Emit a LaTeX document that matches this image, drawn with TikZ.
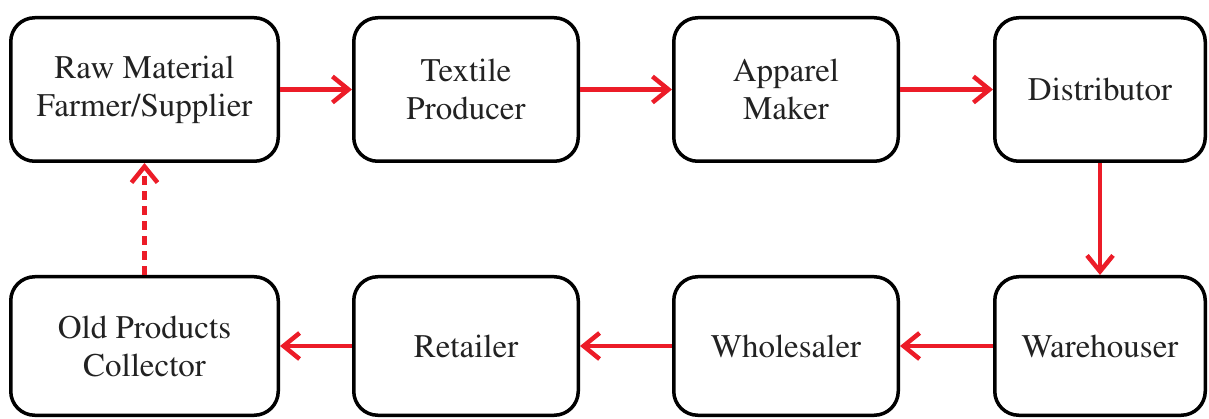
\documentclass[tikz,border=0pt]{standalone}
\usepackage[T1]{fontenc}
\usepackage{mathptmx}
\usetikzlibrary{arrows.meta}
\definecolor{flowred}{RGB}{236,28,40}
\definecolor{boxtext}{RGB}{34,34,34}
\def\blist{{(144.5,89.5)/raw/271/147/{Raw Material\\Farmer/Supplier}}, {(466,89.5)/tex/228/147/{Textile\\Producer}}, {(786,89.5)/app/228/147/{Apparel\\Maker}}, {(1100,89.5)/dist/214/147/{Distributor}}, {(1100,346)/ware/214/142/{Warehouser}}, {(786,346)/whole/228/142/{Wholesaler}}, {(466,346)/ret/228/142/{Retailer}}, {(144.5,346)/old/271/142/{Old Products\\Collector}}}
\tikzstyle{stage}=[draw=black, line width=3.5pt, rounded corners=24pt, fill=white, align=center, inner sep=0pt, text=boxtext, font=\fontsize{33}{38}\selectfont]
\tikzstyle{flow} = [draw=flowred, line width=4.5pt, -{Straight Barb[length=16pt,width=26pt,line width=4.5pt]}]
\tikzstyle{return} = [flow, dash pattern=on 9pt off 6pt]

\begin{document}
\begin{tikzpicture}[x=1pt, y=-1pt]
  \useasboundingbox (0,0) rectangle (1209,419);
  \foreach \pos/\name/\bw/\bh/\txt in \blist {
    \node[stage, minimum width=\bw pt-3.5pt, minimum height=\bh pt-3.5pt] (\name) at \pos {\txt};
  }

  \foreach \source/\sink in {raw/tex, tex/app, app/dist, dist/ware, ware/whole, whole/ret, ret/old} {
    \path[flow] (\source) -- (\sink);
  }
  \path[return] (old) -- (raw);
\end{tikzpicture}
\end{document}
